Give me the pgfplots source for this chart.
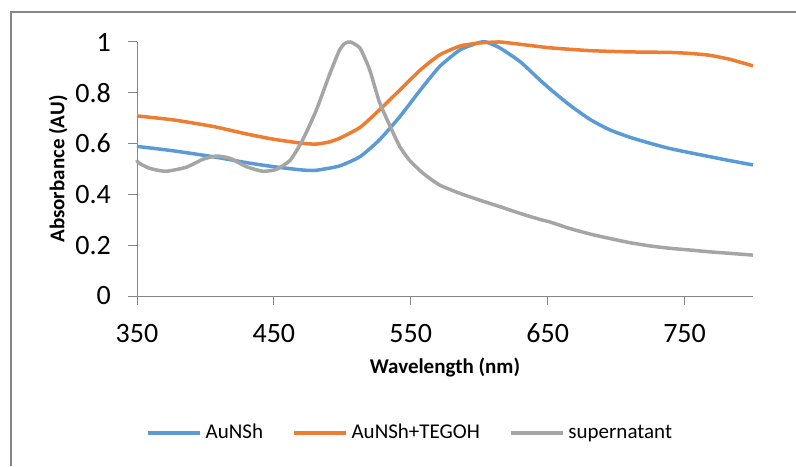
\documentclass[border=0pt]{standalone}
\usepackage{pgfplots}
\pgfplotsset{compat=1.18}
\usepackage{fontspec}
\setmainfont{Carlito}

\definecolor{xlblue}{HTML}{5B9BD5}
\definecolor{xlorange}{HTML}{ED7D31}
\definecolor{xlgray}{HTML}{A5A5A5}
\definecolor{axgray}{HTML}{868686}

\begin{document}
\begin{tikzpicture}
\begin{axis}[
    at={(68.5pt,85pt)}, anchor=south west,
    scale only axis, width=308pt, height=127pt,
    xmin=350, xmax=800, ymin=0, ymax=1,
    xtick={350,450,...,750},
    ytick={0,0.2,...,1},
    axis x line*=bottom, axis y line*=left,
    axis line style={axgray, line width=0.5pt},
    major tick style={axgray, line width=0.5pt},
    tick align=outside, major tick length=4.5pt,
    /pgf/number format/assume math mode=true,
    /pgf/number format/fixed,
    tick label style={font=\fontsize{14}{16}\selectfont},
    xticklabel style={yshift=-6pt},
    yticklabel style={xshift=-5pt},
    xlabel={\textbf{Wavelength (nm)}},
    ylabel={\textbf{Absorbance (AU)}},
    label style={font=\fontsize{10.5}{12.6}\selectfont},
    xlabel style={at={(axis description cs:0.5,-0.2795)}, anchor=center},
    ylabel style={at={(axis description cs:-0.128,0.5)}, anchor=center, rotate=0},
    clip=false,
    legend columns=3,
    legend style={draw=none, fill=none, at={(0.445,-0.539)}, anchor=center,
        font=\fontsize{10.5}{12.6}\selectfont,
        /tikz/every even column/.append style={column sep=12.5pt}},
    legend image code/.code={\draw[#1] (0pt,0pt) -- (26pt,0pt);},
    every axis plot/.append style={line width=1.75pt, smooth, tension=0.35},
]
\addplot[xlblue] coordinates {
(350,0.589) (376,0.572) (406,0.548) (430,0.525) (450,0.509) (471,0.496)
(481,0.495) (498,0.512) (513,0.549) (527,0.614) (542,0.706) (557,0.811)
(571,0.903) (586,0.969) (600,0.998) (605,1.0) (615,0.977) (630,0.922)
(644,0.852) (652,0.814) (666,0.752) (681,0.695) (695,0.655) (710,0.625)
(725,0.601) (739,0.581) (754,0.564) (768,0.549) (783,0.533) (800,0.516)
};
\addlegendentry{AuNSh}
\addplot[xlorange] coordinates {
(350,0.709) (377,0.693) (406,0.667) (430,0.638) (450,0.617) (471,0.601)
(481,0.598) (490,0.606) (498,0.621) (513,0.664) (527,0.732) (542,0.811)
(557,0.890) (571,0.949) (586,0.984) (600,0.996) (615,1.0) (630,0.991)
(652,0.977) (681,0.966) (710,0.961) (739,0.959) (754,0.955) (768,0.948)
(783,0.932) (800,0.906)
};
\addlegendentry{AuNSh+TEGOH}
\addplot[xlgray] coordinates {
(350,0.535) (351,0.525) (359,0.503) (371,0.491) (386,0.507) (398,0.538)
(408,0.551) (418,0.542) (430,0.509) (442,0.491) (452,0.499) (462,0.535)
(471,0.614) (481,0.732) (491,0.877) (498,0.969) (502,0.995) (506,1.0)
(513,0.975) (520,0.890) (527,0.765) (535,0.667) (542,0.588) (549,0.535)
(559,0.483) (571,0.437) (586,0.404) (600,0.378) (615,0.352) (630,0.325)
(644,0.302) (652,0.291) (666,0.266) (681,0.244) (695,0.227) (710,0.210)
(725,0.197) (739,0.188) (754,0.181) (768,0.174) (783,0.168) (800,0.161)
};
\addlegendentry{supernatant}
\end{axis}
\draw[axgray, line width=0.6pt] (5.5pt,0pt) -- (5.5pt,227pt) -- (398pt,227pt);
\pgfresetboundingbox
\path (0pt,0pt) rectangle (398pt,233pt);
\end{tikzpicture}
\end{document}
